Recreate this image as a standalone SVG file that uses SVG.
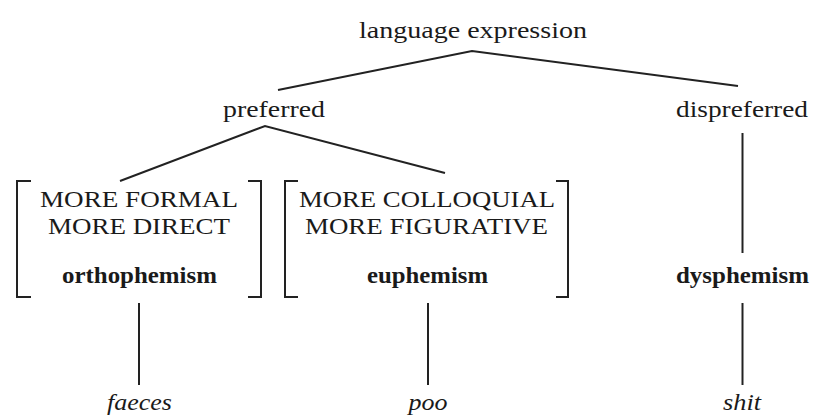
<svg xmlns="http://www.w3.org/2000/svg" width="815" height="415" viewBox="0 0 815 415">
<style>
text{font-family:"Liberation Serif","Times New Roman",serif;font-size:23px;fill:#1a1a1a;text-anchor:middle}
.b{font-weight:bold}
.i{font-style:italic}
.ln{stroke:#222;stroke-width:2;fill:none}
</style>
<rect width="815" height="415" fill="#fff"/>
<g id="connectors">
<path class="ln" d="M278,90 L472,51 L738,86"/>
<path class="ln" d="M120,181 L265,126 L445,173"/>
<path class="ln" d="M742.5,133 V253"/>
<path class="ln" d="M139,303 V385"/>
<path class="ln" d="M428,303 V385"/>
<path class="ln" d="M742.5,303 V385"/>
</g>
<g id="root"><text x="473" y="38" textLength="228" lengthAdjust="spacingAndGlyphs">language expression</text></g>
<g id="preferred"><text x="274" y="117" textLength="102" lengthAdjust="spacingAndGlyphs">preferred</text></g>
<g id="dispreferred"><text x="742" y="117" textLength="132" lengthAdjust="spacingAndGlyphs">dispreferred</text></g>
<g id="orthophemism">
<path class="ln" d="M31,181 H17 V297 H31"/>
<path class="ln" d="M248,181 H261 V297 H248"/>
<text x="139" y="207" textLength="198" lengthAdjust="spacingAndGlyphs">MORE FORMAL</text>
<text x="139" y="234" textLength="182" lengthAdjust="spacingAndGlyphs">MORE DIRECT</text>
<text class="b" x="139.5" y="283" textLength="155" lengthAdjust="spacingAndGlyphs">orthophemism</text>
</g>
<g id="euphemism">
<path class="ln" d="M298,181 H285 V297 H298"/>
<path class="ln" d="M556,181 H568 V297 H556"/>
<text x="427" y="207" textLength="256" lengthAdjust="spacingAndGlyphs">MORE COLLOQUIAL</text>
<text x="426.5" y="234" textLength="243" lengthAdjust="spacingAndGlyphs">MORE FIGURATIVE</text>
<text class="b" x="427.5" y="283" textLength="121" lengthAdjust="spacingAndGlyphs">euphemism</text>
</g>
<g id="dysphemism"><text class="b" x="742.5" y="283" textLength="133" lengthAdjust="spacingAndGlyphs">dysphemism</text></g>
<g id="faeces"><text class="i" x="139.5" y="410" textLength="65" lengthAdjust="spacingAndGlyphs">faeces</text></g>
<g id="poo"><text class="i" x="428" y="410" textLength="39" lengthAdjust="spacingAndGlyphs">poo</text></g>
<g id="shit"><text class="i" x="742" y="410" textLength="38" lengthAdjust="spacingAndGlyphs">shit</text></g>
</svg>
